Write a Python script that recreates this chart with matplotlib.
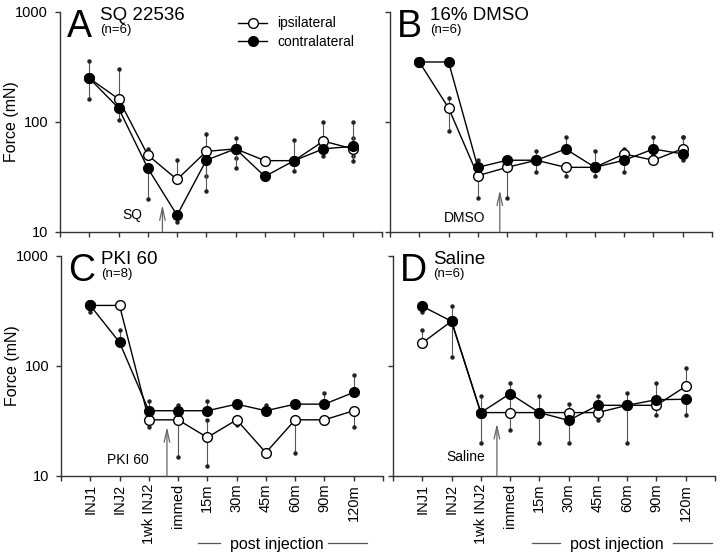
import numpy as np
import matplotlib
matplotlib.use("Agg")
import matplotlib.pyplot as plt
from matplotlib.lines import Line2D

plt.rcParams["font.family"] = ["Liberation Sans", "DejaVu Sans"]

nan = np.nan
labels = ["INJ1", "INJ2", "1wk INJ2", "immed", "15m", "30m", "45m", "60m", "90m", "120m"]

# panel A - SQ 22536
a_ipsi = [250, 162, 50, 30, 54, 57, 44.5, 44.5, 67, 57]
a_contra = [250, 134, 38, 14.2, 45, 57, 32, 44.5, 57, 60]
a_ipsi_hi = [356, 303, 57, 45, 77, 72, 46, 69, 99, 72]
a_ipsi_lo = [nan, nan, nan, nan, 32.5, 47, 42, nan, nan, 48.8]
a_contra_hi = [nan, nan, nan, nan, 53, nan, nan, nan, nan, 99]
a_contra_lo = [163, 105, 20, 12.2, 23.4, 38, nan, 35.6, 48.8, 44.5]

# panel B - 16% DMSO
b_ipsi = [351, 134, 32.5, 38.7, 44.9, 38.7, 38.7, 51.2, 44.9, 57.2]
b_contra = [351, 351, 38.7, 44.9, 44.9, 56.8, 38.7, 44.9, 56.8, 51.2]
b_ipsi_hi = [nan, 165, nan, nan, nan, nan, nan, 57, nan, 72.5]
b_ipsi_lo = [nan, 83, nan, 20.4, nan, 32.5, nan, nan, nan, nan]
b_contra_hi = [nan, nan, 44.9, nan, 54, 72.5, 54, nan, 72.5, 72.5]
b_contra_lo = [nan, nan, 20.4, nan, 35, nan, 32.5, 35, 50, 45]

# panel C - PKI 60
c_ipsi = [355, 355, 32.4, 32.4, 22.4, 32.4, 16.3, 32.4, 32.4, 39.2]
c_contra = [355, 164, 39.2, 39.2, 39.2, 45, 39.2, 45, 45, 57.5]
c_ipsi_hi = [nan, nan, nan, nan, 32.4, nan, nan, nan, nan, nan]
c_ipsi_lo = [nan, nan, 28, 15, 12.2, 29, nan, 16.3, nan, 28]
c_contra_hi = [nan, 214, 47.6, 44.5, 47.6, nan, 44.5, nan, 57, 83.4]
c_contra_lo = [308, nan, nan, nan, nan, nan, nan, nan, nan, nan]

# panel D - Saline
d_ipsi = [162, 255, 37.7, 37.7, 37.7, 37.7, 37.7, 43.9, 43.9, 65.3]
d_contra = [349, 255, 37.7, 56, 37.7, 32, 43.9, 43.9, 49.4, 49.8]
d_ipsi_hi = [211, nan, nan, nan, nan, 44.8, nan, nan, nan, 96.6]
d_ipsi_lo = [nan] * 10
d_contra_hi = [nan, 349, 53, 70.5, 53, nan, 53, 57, 70, nan]
d_contra_lo = [310, 121, 20, 26, 20, 20, 32, 20, 35.6, 35.6]

panels = [
    dict(pos=[0.0833, 0.585, 0.4472, 0.3936], letter="A", title="SQ 22536", n="(n=6)",
         ipsi=a_ipsi, contra=a_contra, err=[a_ipsi_hi, a_ipsi_lo, a_contra_hi, a_contra_lo],
         drug="SQ", drug_xy=(1.46, 14.3), arrow_x=2.5, arrow_top=17.6, left=True, bottom=False),
    dict(pos=[0.5417, 0.585, 0.4472, 0.3936], letter="B", title="16% DMSO", n="(n=6)",
         ipsi=b_ipsi, contra=b_contra, err=[b_ipsi_hi, b_ipsi_lo, b_contra_hi, b_contra_lo],
         drug="DMSO", drug_xy=(1.56, 13.4), arrow_x=2.75, arrow_top=24, left=False, bottom=False),
    dict(pos=[0.0847, 0.1485, 0.4472, 0.3936], letter="C", title="PKI 60", n="(n=8)",
         ipsi=c_ipsi, contra=c_contra, err=[c_ipsi_hi, c_ipsi_lo, c_contra_hi, c_contra_lo],
         drug="PKI 60", drug_xy=(1.29, 14.0), arrow_x=2.62, arrow_top=28, left=True, bottom=True),
    dict(pos=[0.5458, 0.1485, 0.4472, 0.3936], letter="D", title="Saline", n="(n=6)",
         ipsi=d_ipsi, contra=d_contra, err=[d_ipsi_hi, d_ipsi_lo, d_contra_hi, d_contra_lo],
         drug="Saline", drug_xy=(1.49, 14.9), arrow_x=2.55, arrow_top=30, left=False, bottom=True),
]

fig = plt.figure(figsize=(7.2, 5.59), dpi=100)
x = np.arange(len(labels))
axc = "#333333"

for p in panels:
    ax = fig.add_axes(p["pos"])
    ax.set_yscale("log")
    ax.set_ylim(10, 1000)
    ax.set_xlim(-1, 10)
    for s in ["top", "right"]:
        ax.spines[s].set_visible(False)
    for s in ["left", "bottom"]:
        ax.spines[s].set_color(axc)
        ax.spines[s].set_linewidth(1.0)

    # error bars: vertical line from mean to the end value, small dot at the end
    means = [p["ipsi"], p["ipsi"], p["contra"], p["contra"]]
    for m, e in zip(means, p["err"]):
        m = np.asarray(m, float)
        e = np.asarray(e, float)
        ok = ~np.isnan(e)
        ax.vlines(x[ok], m[ok], e[ok], color="#555555", lw=0.8, zorder=2)
        ax.plot(x[ok], e[ok], "o", ms=2.2, color="#222222", zorder=2)

    ax.plot(x, p["ipsi"], "-o", color="black", lw=1.0, ms=7, mfc="white", mec="black",
            mew=1.0, zorder=3, label="ipsilateral")
    ax.plot(x, p["contra"], "-o", color="black", lw=1.0, ms=7, mfc="black", mec="black",
            zorder=4, label="contralateral")

    ax.set_xticks(np.arange(-1, 11))
    if p["bottom"]:
        ax.set_xticklabels([""] + labels + [""], rotation=90, fontsize=10.5)
    else:
        ax.set_xticklabels([])
    ax.set_yticks([10, 100, 1000])
    ax.yaxis.set_minor_locator(matplotlib.ticker.NullLocator())
    ax.tick_params(axis="x", direction="out", length=3.6, width=1.0, color=axc, pad=2)
    ax.tick_params(axis="y", direction="out", length=3.6, width=1.0, color=axc, pad=5)
    if p["left"]:
        ax.set_yticklabels(["10", "100", "1000"], fontsize=10.5)
        ax.set_ylabel("Force (mN)", fontsize=11.5)
        ax.yaxis.set_label_coords(-0.128, 0.5)
    else:
        ax.set_yticklabels([])

    ax.text(0.022, 0.885, p["letter"], transform=ax.transAxes, fontsize=27, va="baseline")
    ax.text(0.124, 0.962, p["title"], transform=ax.transAxes, fontsize=13.5, va="baseline")
    ax.text(0.124, 0.905, p["n"], transform=ax.transAxes, fontsize=9.5, va="baseline")

    ax.text(p["drug_xy"][0], p["drug_xy"][1], p["drug"], fontsize=10, ha="center", va="center")
    ax.annotate("", xy=(p["arrow_x"], p["arrow_top"]), xytext=(p["arrow_x"], 10),
                arrowprops=dict(arrowstyle="->,head_length=0.9,head_width=0.2",
                                color="#666666", lw=0.9, shrinkA=0, shrinkB=0))

    if p["letter"] == "A":
        ax.legend(loc="upper left", bbox_to_anchor=(0.553, 0.98), frameon=False, fontsize=10,
                  handlelength=2.1, handletextpad=0.7, labelspacing=0.35, borderpad=0,
                  borderaxespad=0)

# "post injection" labels with dashes under bottom panels
for cx, l1, l2 in [(277, (198, 220), (328, 367)), (617, (532, 560), (673, 712))]:
    fig.text(cx / 720, 1 - 545 / 559, "post injection", fontsize=11.5, ha="center", va="center")
    for a, b in (l1, l2):
        fig.add_artist(Line2D([a / 720, b / 720], [1 - 543 / 559] * 2, color="#555555", lw=0.9))

fig.savefig("out.png", dpi=100)
